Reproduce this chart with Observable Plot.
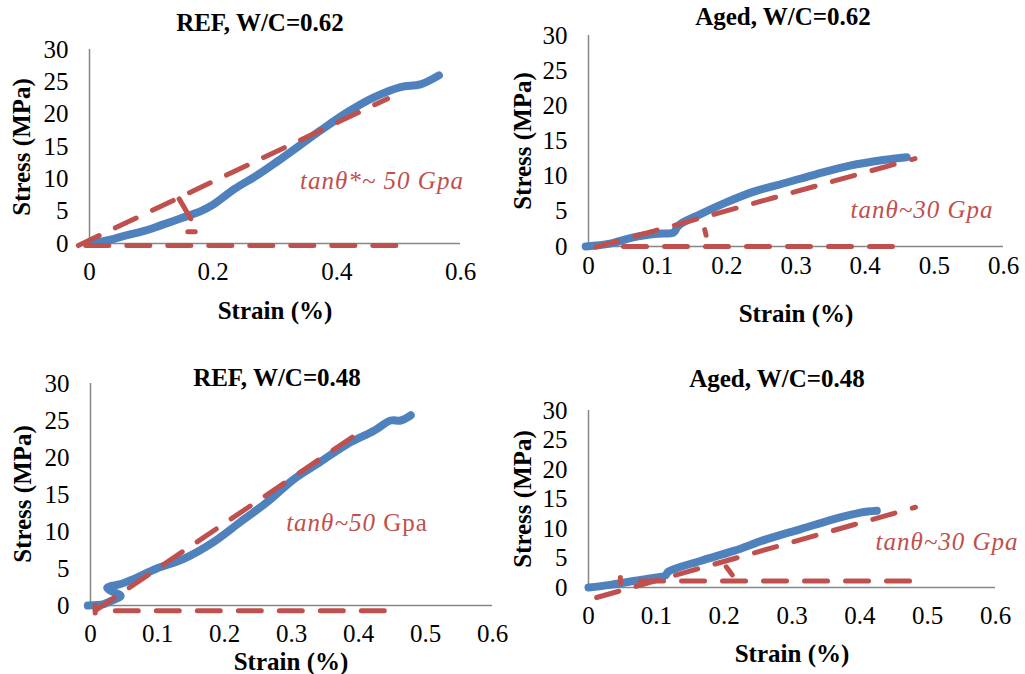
<!DOCTYPE html>
<html>
<head>
<meta charset="utf-8">
<script src="https://cdn.jsdelivr.net/npm/d3@7"></script>
<script src="https://cdn.jsdelivr.net/npm/@observablehq/plot@0.6"></script>
</head>
<body style="margin:0;padding:0;background:#fff">
<div id="root" style="position:relative;width:1025px;height:674px;overflow:hidden;background:#fff;font-family:'Liberation Serif';color:#000"></div>
<script>
// ---------- data ----------
const xTicksCoarse = [0, 0.2, 0.4, 0.6];
const xTicksFine = [0, 0.1, 0.2, 0.3, 0.4, 0.5, 0.6];
const yTicks = [0, 5, 10, 15, 20, 25, 30];

// REF, W/C=0.62
const ref62Strain = [0, 0.03, 0.061, 0.09, 0.115, 0.148, 0.18, 0.2, 0.234, 0.272, 0.304, 0.342, 0.374, 0.417, 0.46, 0.503, 0.535, 0.565];
const ref62Stress = [0, 0.5, 1.3, 2.0, 2.8, 3.9, 5.0, 6.0, 8.4, 10.6, 12.7, 15.3, 17.5, 20.3, 22.6, 24.2, 24.6, 26.0];
const ref62FitSeg    = ["t", "t", "d", "d", "k", "k", "h", "h"];
const ref62FitStrain = [-0.018, 0.482, 0.145, 0.167, 0.159, 0.171, -0.006, 0.5];
const ref62FitStress = [-0.3, 22.4, 6.9, 3.3, 1.8, 1.8, -0.3, -0.3];

// Aged, W/C=0.62
const aged62Strain = [-0.004, 0.031, 0.065, 0.099, 0.123, 0.128, 0.133, 0.162, 0.2, 0.239, 0.287, 0.33, 0.378, 0.426, 0.46];
const aged62Stress = [0, 0.4, 1.3, 1.8, 2.0, 2.7, 3.2, 4.6, 6.3, 7.8, 9.1, 10.3, 11.5, 12.3, 12.7];
const aged62FitSeg    = ["t", "t", "d", "d", "h", "h"];
const aged62FitStrain = [0.01, 0.472, 0.168, 0.170, 0.0506, 0.44];
const aged62FitStress = [-0.1, 12.5, 2.4, 1.6, 0, 0];

// REF, W/C=0.48
const ref48Strain = [-0.004, 0.02, 0.03, 0.045, 0.03, 0.025, 0.045, 0.065, 0.099, 0.139, 0.184, 0.224, 0.264, 0.304, 0.343, 0.383, 0.423, 0.448, 0.463, 0.478];
const ref48Stress = [0, 0.2, 0.6, 1.3, 2.0, 2.4, 2.9, 3.6, 5.0, 6.3, 8.6, 11.3, 14.0, 17.1, 19.4, 21.8, 23.6, 25.0, 25.0, 25.7];
const ref48FitSeg    = ["t", "t", "d", "d", "h", "h"];
const ref48FitStrain = [0.007, 0.398, 0.007, 0.007, 0.037, 0.44];
const ref48FitStress = [-0.7, 23.2, 0, -1.0, -0.7, -0.7];

// Aged, W/C=0.48
const aged48Strain = [0, 0.032, 0.066, 0.101, 0.113, 0.118, 0.165, 0.214, 0.263, 0.313, 0.362, 0.401, 0.425];
const aged48Stress = [0, 0.45, 1.1, 1.7, 2.0, 2.7, 4.5, 6.2, 8.2, 9.9, 11.6, 12.7, 13.0];
const aged48FitSeg    = ["t", "t", "s", "s", "d", "d", "h", "h"];
const aged48FitStrain = [0.012, 0.482, 0.047, 0.047, 0.203, 0.212, 0.0767, 0.474];
const aged48FitStress = [-1.7, 13.6, 1.7, 0.7, 3.5, 2.1, 1.1, 1.1];

// ---------- helpers ----------
const zip = (xs, ys, zs) => xs.map((x, i) => ({x, y: ys[i], z: zs ? zs[i] : "a"}));
const BLUE = "#4F81BD", RED = "#C0504D", AXIS = "#868686";
const SERIF = "'Liberation Serif'";

const panels = [
  {title: "REF, W/C=0.62", left: 0, top: 0, w: 500, h: 330, mL: 89, mR: 40, mT: 49, mB: 87, xTicks: xTicksCoarse, xPad: 19,
   blue: zip(ref62Strain, ref62Stress), red: zip(ref62FitStrain, ref62FitStress, ref62FitSeg),
   titleC: [260, 22], ylabC: [21, 147], xlabC: [275, 310], noteC: [382, 180], note: "tanθ*~ 50 Gpa", noteUp: ""},
  {title: "Aged, W/C=0.62", left: 510, top: 0, w: 515, h: 330, mL: 78, mR: 22, mT: 35, mB: 84, xTicks: xTicksFine, xPad: 10,
   blue: zip(aged62Strain, aged62Stress), red: zip(aged62FitStrain, aged62FitStress, aged62FitSeg),
   titleC: [783, 16], ylabC: [522, 141], xlabC: [796, 313], noteC: [922, 209], note: "tanθ~30 Gpa", noteUp: ""},
  {title: "REF, W/C=0.48", left: 0, top: 340, w: 510, h: 334, mL: 90, mR: 18, mT: 43, mB: 69, xTicks: xTicksFine, xPad: 19,
   blue: zip(ref48Strain, ref48Stress), red: zip(ref48FitStrain, ref48FitStress, ref48FitSeg),
   titleC: [277, 377], ylabC: [22, 494], xlabC: [291, 661], noteC: [357, 522], note: "tanθ~50", noteUp: " Gpa"},
  {title: "Aged, W/C=0.48", left: 510, top: 340, w: 515, h: 334, mL: 78, mR: 30, mT: 70, mB: 87, xTicks: xTicksFine, xPad: 19,
   blue: zip(aged48Strain, aged48Stress), red: zip(aged48FitStrain, aged48FitStress, aged48FitSeg),
   titleC: [777, 378], ylabC: [522, 499], xlabC: [792, 653], noteC: [947, 541], note: "tanθ~30 Gpa", noteUp: ""}
];

const root = document.getElementById("root");

function addText(c, html, css, rotate) {
  const d = document.createElement("div");
  d.style.cssText = "position:absolute;white-space:nowrap;line-height:1;font-size:25px;font-family:" + SERIF + ";" + css;
  d.style.left = c[0] + "px";
  d.style.top = c[1] + "px";
  d.style.transform = "translate(-50%, -50%)" + (rotate ? " rotate(-90deg)" : "");
  d.innerHTML = html;
  root.appendChild(d);
}

for (const p of panels) {
  const chart = Plot.plot({
    width: p.w,
    height: p.h,
    marginLeft: p.mL,
    marginRight: p.mR,
    marginTop: p.mT,
    marginBottom: p.mB,
    x: {domain: [0, 0.6]},
    y: {domain: [0, 30]},
    style: {fontFamily: SERIF, fontSize: "25px", color: "#000", background: "transparent", overflow: "visible"},
    marks: [
      Plot.ruleY([0], {x1: 0, x2: 0.6, stroke: AXIS, strokeWidth: 1.5}),
      Plot.ruleX([0], {y1: 0, y2: 30, stroke: AXIS, strokeWidth: 1.5}),
      Plot.axisX({ticks: p.xTicks, tickSize: 0, tickPadding: p.xPad, tickFormat: d => String(d), label: null}),
      Plot.axisY({ticks: yTicks, tickSize: 0, tickPadding: 21, tickFormat: d => String(d), label: null}),
      Plot.line(p.blue, {x: "x", y: "y", stroke: BLUE, strokeWidth: 8, strokeLinecap: "round", strokeLinejoin: "round", curve: "catmull-rom"}),
      Plot.line(p.red, {x: "x", y: "y", z: "z", stroke: RED, strokeWidth: 5, strokeDasharray: "23 18"})
    ]
  });
  const wrap = document.createElement("div");
  wrap.style.cssText = "position:absolute;left:" + p.left + "px;top:" + p.top + "px";
  wrap.appendChild(chart);
  root.appendChild(wrap);

  addText(p.titleC, p.title, "font-weight:bold");
  addText(p.ylabC, "Stress (MPa)", "font-weight:bold", true);
  addText(p.xlabC, "Strain (%)", "font-weight:bold");
  addText(p.noteC, p.note + (p.noteUp ? '<span style="font-style:normal">' + p.noteUp + '</span>' : ""), "font-style:italic;letter-spacing:1px;color:" + RED);
}
</script>
</body>
</html>
